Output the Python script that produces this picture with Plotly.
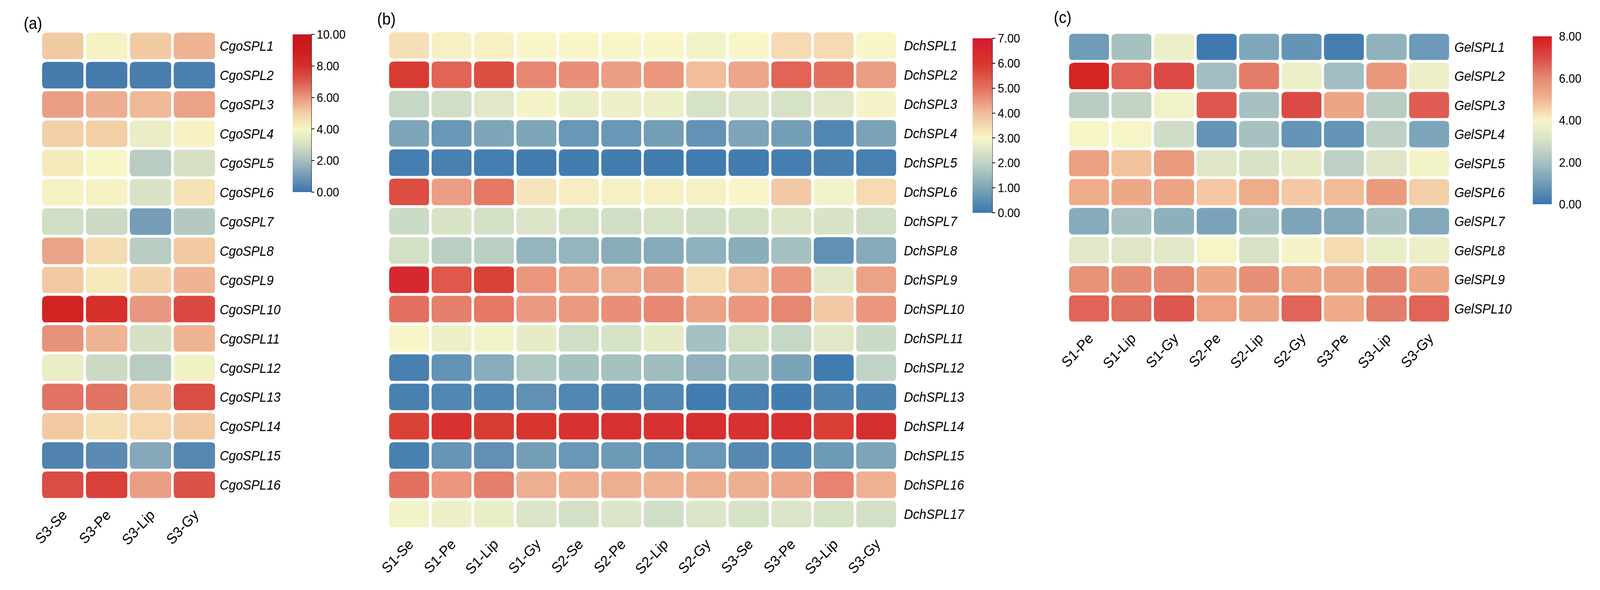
import plotly.graph_objects as go

W, H = 4450, 1511
FONT = "Arial, 'Liberation Sans', sans-serif"

# ---------------- data ----------------
a_cols = ["S3-Se", "S3-Pe", "S3-Lip", "S3-Gy"]
a_rows = ["CgoSPL1", "CgoSPL2", "CgoSPL3", "CgoSPL4", "CgoSPL5", "CgoSPL6", "CgoSPL7", "CgoSPL8",
          "CgoSPL9", "CgoSPL10", "CgoSPL11", "CgoSPL12", "CgoSPL13", "CgoSPL14", "CgoSPL15", "CgoSPL16"]
a_vals = [
    [5.1, 4.1, 5.1, 5.5],
    [0.2, 0.2, 0.25, 0.3],
    [5.9, 5.6, 5.4, 5.8],
    [5.0, 5.0, 3.6, 4.1],
    [4.3, 4.0, 2.4, 3.0],
    [4.1, 4.1, 3.1, 4.5],
    [2.9, 2.8, 1.1, 2.3],
    [5.8, 4.7, 2.4, 5.1],
    [5.1, 4.3, 4.9, 5.5],
    [8.6, 8.0, 6.0, 7.4],
    [6.1, 5.5, 3.0, 5.5],
    [3.6, 2.8, 2.4, 3.8],
    [6.6, 6.6, 5.2, 7.3],
    [5.1, 4.6, 4.8, 5.1],
    [0.4, 0.6, 1.4, 0.5],
    [7.3, 7.6, 5.9, 7.2],
]
a_ticks = [0, 2, 4, 6, 8, 10]

b_cols = ["S1-Se", "S1-Pe", "S1-Lip", "S1-Gy", "S2-Se", "S2-Pe", "S2-Lip", "S2-Gy",
          "S3-Se", "S3-Pe", "S3-Lip", "S3-Gy"]
b_rows = ["DchSPL1", "DchSPL2", "DchSPL3", "DchSPL4", "DchSPL5", "DchSPL6", "DchSPL7", "DchSPL8",
          "DchSPL9", "DchSPL10", "DchSPL11", "DchSPL12", "DchSPL13", "DchSPL14", "DchSPL15",
          "DchSPL16", "DchSPL17"]
b_vals = [
    [3.4, 3.1, 3.1, 3.0, 3.0, 3.0, 3.0, 2.9, 3.0, 3.5, 3.5, 3.0],
    [5.9, 5.2, 5.6, 4.7, 4.6, 4.4, 4.5, 4.0, 4.3, 5.2, 5.0, 4.4],
    [2.1, 2.3, 2.6, 2.95, 2.75, 2.8, 2.8, 2.4, 2.5, 2.4, 2.6, 2.95],
    [1.0, 0.7, 1.0, 1.0, 0.7, 0.7, 0.85, 0.6, 1.0, 0.85, 0.35, 0.95],
    [0.15, 0.2, 0.15, 0.1, 0.12, 0.1, 0.1, 0.1, 0.12, 0.15, 0.2, 0.18],
    [5.6, 4.4, 4.9, 3.3, 3.15, 3.1, 3.1, 3.1, 3.0, 3.8, 2.9, 3.5],
    [2.2, 2.45, 2.35, 2.5, 2.35, 2.3, 2.4, 2.3, 2.35, 2.5, 2.45, 2.3],
    [2.35, 1.9, 1.9, 1.35, 1.35, 1.15, 1.1, 1.25, 1.2, 1.6, 0.55, 1.1],
    [6.5, 5.4, 5.8, 4.5, 4.3, 4.2, 4.4, 3.4, 4.0, 4.5, 2.6, 4.35],
    [5.0, 4.8, 4.9, 4.45, 4.45, 4.6, 4.7, 4.35, 4.5, 4.7, 3.8, 4.5],
    [3.0, 2.8, 2.9, 2.7, 2.3, 2.4, 2.7, 1.6, 2.35, 2.1, 2.6, 2.2],
    [0.2, 0.6, 1.15, 1.75, 1.6, 1.6, 1.5, 1.25, 1.55, 0.95, 0.1, 2.0],
    [0.2, 0.35, 0.35, 0.55, 0.35, 0.3, 0.35, 0.1, 0.2, 0.12, 0.3, 0.25],
    [5.8, 6.1, 5.9, 6.05, 6.1, 6.15, 6.1, 6.25, 6.1, 6.2, 5.85, 6.25],
    [0.2, 0.65, 0.55, 0.85, 0.7, 0.75, 0.6, 0.7, 0.4, 0.35, 0.75, 1.0],
    [5.0, 4.5, 4.8, 4.2, 4.2, 4.2, 4.15, 4.2, 4.2, 4.3, 4.75, 4.15],
    [2.9, 2.8, 2.75, 2.5, 2.35, 2.5, 2.3, 2.5, 2.4, 2.5, 2.4, 2.35],
]
b_ticks = [0, 1, 2, 3, 4, 5, 6, 7]

c_cols = ["S1-Pe", "S1-Lip", "S1-Gy", "S2-Pe", "S2-Lip", "S2-Gy", "S3-Pe", "S3-Lip", "S3-Gy"]
c_rows = ["GelSPL1", "GelSPL2", "GelSPL3", "GelSPL4", "GelSPL5", "GelSPL6", "GelSPL7", "GelSPL8",
          "GelSPL9", "GelSPL10"]
c_vals = [
    [1.0, 2.0, 3.7, 0.1, 1.3, 0.8, 0.2, 1.6, 0.95],
    [7.8, 6.6, 7.0, 1.9, 6.2, 3.7, 1.9, 5.7, 3.7],
    [2.4, 2.6, 3.85, 6.8, 2.0, 7.0, 5.4, 2.4, 6.7],
    [4.0, 4.0, 2.9, 0.8, 2.0, 0.8, 0.8, 2.5, 1.25],
    [5.5, 4.8, 5.6, 3.3, 3.1, 3.5, 2.5, 3.3, 3.9],
    [5.2, 5.3, 5.4, 4.7, 5.2, 4.7, 4.9, 5.6, 4.6],
    [1.4, 2.0, 1.55, 1.2, 2.0, 1.25, 1.35, 2.0, 1.35],
    [3.4, 3.3, 3.4, 4.0, 3.1, 3.95, 4.4, 3.6, 3.7],
    [5.8, 5.9, 6.0, 5.3, 5.85, 5.4, 5.4, 6.0, 5.3],
    [6.6, 6.4, 6.8, 5.45, 5.4, 6.6, 5.25, 6.2, 6.6],
]
c_ticks = [0, 2, 4, 6, 8]

# ---------------- styles ----------------
cs_a = [[0.0, "#3b74ab"], [0.1, "#7199b6"], [0.2, "#a6bfc0"], [0.3, "#d6e0c4"], [0.4, "#f7f6c6"],
        [0.5, "#f3cfa6"], [0.6, "#e89880"], [0.7, "#dc5a4f"], [0.8, "#d5302b"], [0.9, "#d01a1e"],
        [1.0, "#c8141e"]]
cs_b = [[0.0, "#3b77ae"], [1 / 7, "#7ea5b8"], [2 / 7, "#bfd4c5"], [3 / 7, "#f8f6c8"],
        [4 / 7, "#f1bd9c"], [5 / 7, "#e3705f"], [6 / 7, "#d7352e"], [1.0, "#d41a33"]]
cs_c = [[0.0, "#3a75ae"], [0.125, "#6f9cb8"], [0.25, "#a7c1c1"], [0.375, "#d5e0c6"],
        [0.5, "#f6f5c8"], [0.625, "#f1b591"], [0.75, "#e58a72"], [0.875, "#dc4a45"],
        [1.0, "#d31a1c"]]

GAP = 7
RADIUS = 11

panels = [
    dict(key="a", rows=a_rows, cols=a_cols, vals=a_vals, cs=cs_a, zmax=10, ticks=a_ticks,
         px=(88.5, 579.5), py=(80.5, 1279.5), ystand=8,
         cb=dict(x=793, top=88, bottom=492, th=52, line=True),
         label="(a)", lx=38, ly=59),
    dict(key="b", rows=b_rows, cols=b_cols, vals=b_vals, cs=cs_b, zmax=7, ticks=b_ticks,
         px=(1059.5, 2484.5), py=(79.5, 1354.5), ystand=17,
         cb=dict(x=2695, top=98, bottom=545, th=55, line=True),
         label="(b)", lx=1027, ly=48),
    dict(key="c", rows=c_rows, cols=c_cols, vals=c_vals, cs=cs_c, zmax=8, ticks=c_ticks,
         px=(2961.5, 4031.5), py=(83.5, 827.5), ystand=10,
         cb=dict(x=4262, top=93, bottom=523, th=53, line=False),
         label="(c)", lx=2920, ly=44),
]

fig = go.Figure()
layout = dict(width=W, height=H, margin=dict(l=0, r=0, t=0, b=0),
              paper_bgcolor="white", plot_bgcolor="white",
              font=dict(family=FONT, color="black"), showlegend=False)
shapes, annotations = [], []

for i, p in enumerate(panels):
    sfx = "" if i == 0 else str(i + 1)
    nr, nc = len(p["rows"]), len(p["cols"])
    cb = p["cb"]
    fig.add_trace(go.Heatmap(
        z=p["vals"], x=list(range(nc)), y=list(range(nr)),
        colorscale=p["cs"], zmin=0, zmax=p["zmax"], xgap=GAP, ygap=GAP,
        xaxis="x" + sfx, yaxis="y" + sfx,
        colorbar=dict(x=cb["x"] / W, xanchor="left", xpad=0, ypad=0,
                      y=1 - cb["top"] / H, yanchor="top",
                      len=cb["bottom"] - cb["top"], lenmode="pixels",
                      thickness=cb["th"], thicknessmode="pixels", outlinewidth=0,
                      tickmode="array", tickvals=p["ticks"],
                      ticktext=[f"{t:.2f}" for t in p["ticks"]],
                      ticks="outside", ticklen=9 if cb["line"] else 14, tickwidth=2,
                      tickcolor="black" if cb["line"] else "rgba(0,0,0,0)",
                      tickfont=dict(size=32, color="black", family=FONT)),
    ))
    x0, x1 = p["px"]
    y0, y1 = p["py"]
    layout["xaxis" + sfx] = dict(
        domain=[x0 / W, x1 / W], range=[-0.5, nc - 0.5], anchor="y" + sfx,
        tickmode="array", tickvals=list(range(nc)), ticktext=p["cols"],
        tickangle=-45, showgrid=False, zeroline=False, showline=False, ticks="",
        ticklabelstandoff=8, tickfont=dict(size=38, family=FONT, color="black"), fixedrange=True)
    layout["yaxis" + sfx] = dict(
        domain=[1 - y1 / H, 1 - y0 / H], range=[nr - 0.5, -0.5], anchor="x" + sfx, side="right",
        tickmode="array", tickvals=list(range(nr)), ticktext=[f"<i>{r}</i>" for r in p["rows"]],
        showgrid=False, zeroline=False, showline=False, ticks="",
        ticklabelstandoff=p["ystand"], tickfont=dict(size=35, family=FONT, color="black"),
        fixedrange=True)

    # rounded-corner masks (white), in data units of this panel
    ppx = (x1 - x0) / nc
    ppy = (y1 - y0) / nr
    gx, gy = (GAP / 2) / ppx, (GAP / 2) / ppy
    rx, ry = RADIUS / ppx, RADIUS / ppy
    parts = []
    for r in range(nr):
        for c in range(nc):
            xl, xr = c - 0.5 + gx, c + 0.5 - gx
            yt, yb = r - 0.5 + gy, r + 0.5 - gy
            for cx, cy, sx, sy in ((xl, yt, 1, 1), (xr, yt, -1, 1), (xl, yb, 1, -1), (xr, yb, -1, -1)):
                parts.append(
                    f"M{cx - sx * gx:.4f},{cy - sy * gy:.4f} L{cx + sx * rx:.4f},{cy - sy * gy:.4f} "
                    f"L{cx + sx * rx:.4f},{cy:.4f} Q{cx:.4f},{cy:.4f} {cx:.4f},{cy + sy * ry:.4f} "
                    f"L{cx - sx * gx:.4f},{cy + sy * ry:.4f} Z")
    shapes.append(dict(type="path", xref="x" + sfx, yref="y" + sfx, path=" ".join(parts),
                       fillcolor="white", line=dict(width=0), layer="above"))

    if cb["line"]:
        xl = (cb["x"] + cb["th"]) / W
        shapes.append(dict(type="line", xref="paper", yref="paper", x0=xl, x1=xl,
                           y0=1 - cb["top"] / H, y1=1 - cb["bottom"] / H,
                           line=dict(color="black", width=2)))

    annotations.append(dict(text=p["label"], xref="paper", yref="paper", x=p["lx"] / W,
                            y=1 - p["ly"] / H, xanchor="left", yanchor="middle", showarrow=False,
                            font=dict(size=42, family=FONT, color="black")))

layout["shapes"] = shapes
layout["annotations"] = annotations
fig.update_layout(**layout)

# fit the fixed-size 4450x1511 figure exactly into the browser viewport (both directions)
fit_js = """
(function(){
  var gd = document.getElementById('{plot_id}');
  document.documentElement.style.overflow = 'hidden';
  document.body.style.margin = '0';
  document.body.style.padding = '0';
  document.body.style.overflow = 'hidden';
  var kx = window.innerWidth / %d;
  var ky = window.innerHeight / %d;
  var wrap = gd.parentElement;
  wrap.style.width = window.innerWidth + 'px';
  wrap.style.height = window.innerHeight + 'px';
  wrap.style.overflow = 'hidden';
  gd.style.transformOrigin = '0 0';
  gd.style.transform = 'scale(' + kx + ',' + ky + ')';
})();
""" % (W, H)

fig.write_html("out.html", post_script=fit_js, config={"displayModeBar": False})
